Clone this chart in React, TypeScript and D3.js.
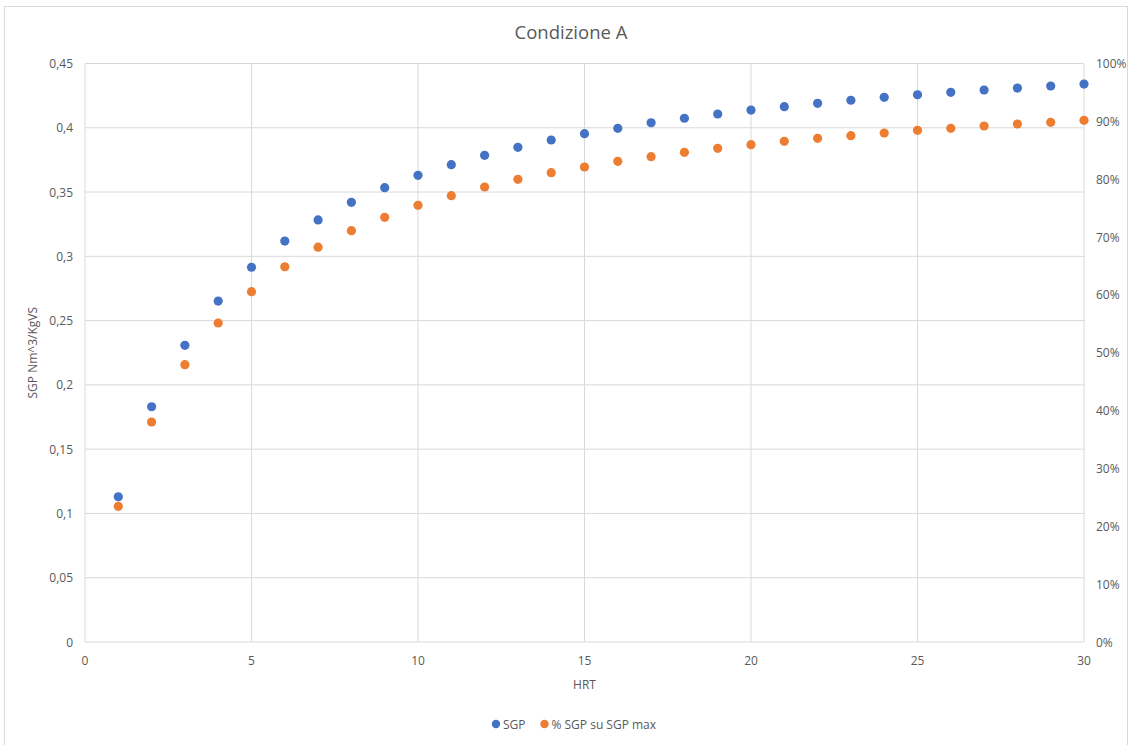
import React from "react";
import * as d3 from "d3";

const hrt = [1,2,3,4,5,6,7,8,9,10,11,12,13,14,15,16,17,18,19,20,21,22,23,24,25,26,27,28,29,30];
const sgp = [0.1130,0.1830,0.2308,0.2652,0.2915,0.3119,0.3283,0.3420,0.3534,0.3630,0.3713,0.3786,0.3848,0.3905,0.3954,0.3996,0.4039,0.4074,0.4107,0.4138,0.4164,0.4190,0.4214,0.4237,0.4257,0.4276,0.4294,0.4309,0.4325,0.4340];
const pctSgp = [0.2346,0.3803,0.4793,0.5514,0.6055,0.6487,0.6825,0.7110,0.7341,0.7549,0.7715,0.7865,0.7998,0.8112,0.8211,0.8309,0.8389,0.8465,0.8534,0.8596,0.8655,0.8707,0.8752,0.8799,0.8845,0.8880,0.8920,0.8954,0.8984,0.9018];
const xTicks = [0,5,10,15,20,25,30];
const yTicks = [0,0.05,0.1,0.15,0.2,0.25,0.3,0.35,0.4,0.45];
const y2Ticks = [0,0.1,0.2,0.3,0.4,0.5,0.6,0.7,0.8,0.9,1.0];
const seriesNames = ["SGP", "% SGP su SGP max"];

const W = 1132, H = 745;
const left = 85, right = 1084, top = 63.5, bottom = 642;
const BLUE = "#4472C4", ORANGE = "#ED7D31", TXT = "#595959", GRID = "#D9D9D9";
const FONT = "'Open Sans', 'Liberation Sans', sans-serif";

export default function App() {
  const x = d3.scaleLinear().domain([0, 30]).range([left, right]);
  const y = d3.scaleLinear().domain([0, 0.45]).range([bottom, top]);
  const y2 = d3.scaleLinear().domain([0, 1]).range([bottom, top]);
  const fmtY = (v: number) => (v === 0 ? "0" : d3.format("")(+v.toFixed(2)).replace(".", ","));
  const fmtP = d3.format(".0%");
  return (
    <svg width={W} height={H} style={{ position: "absolute", left: 0, top: 0, display: "block", background: "#fff" }} fontFamily={FONT}>
      <rect x={4.5} y={6.5} width={1123} height={740} fill="#fff" stroke="#D9D9D9" />
      <text x={571} y={39} textAnchor="middle" fontSize={18.5} fill={TXT}>Condizione A</text>
      {yTicks.map((t) => (
        <line key={"h" + t} x1={left} x2={right} y1={y(t)} y2={y(t)} stroke={GRID} strokeWidth={1} />
      ))}
      {xTicks.map((t) => (
        <line key={"v" + t} x1={x(t)} x2={x(t)} y1={top} y2={bottom} stroke={GRID} strokeWidth={1} />
      ))}
      {yTicks.map((t) => (
        <text key={"yl" + t} x={73} y={y(t) + 4.5} textAnchor="end" fontSize={12} fill={TXT}>{fmtY(t)}</text>
      ))}
      {y2Ticks.map((t) => (
        <text key={"y2l" + t} x={1096} y={y2(t) + 4.5} textAnchor="start" fontSize={12} fill={TXT}>{fmtP(t)}</text>
      ))}
      {xTicks.map((t) => (
        <text key={"xl" + t} x={x(t)} y={665} textAnchor="middle" fontSize={12} fill={TXT}>{t}</text>
      ))}
      <text x={x(15)} y={689} textAnchor="middle" fontSize={12} fill={TXT}>HRT</text>
      <text transform={`translate(37,${(top + bottom) / 2}) rotate(-90)`} textAnchor="middle" fontSize={12} fill={TXT}>SGP Nm^3/KgVS</text>
      {hrt.map((h, i) => (
        <circle key={"b" + h} cx={x(h)} cy={y(sgp[i])} r={4.6} fill={BLUE} />
      ))}
      {hrt.map((h, i) => (
        <circle key={"o" + h} cx={x(h)} cy={y2(pctSgp[i])} r={4.6} fill={ORANGE} />
      ))}
      <g fontSize={12} fill={TXT}>
        <circle cx={496} cy={724} r={4.2} fill={BLUE} />
        <text x={503} y={728.5}>{seriesNames[0]}</text>
        <circle cx={544.5} cy={724} r={4.2} fill={ORANGE} />
        <text x={551.5} y={728.5}>{seriesNames[1]}</text>
      </g>
    </svg>
  );
}
